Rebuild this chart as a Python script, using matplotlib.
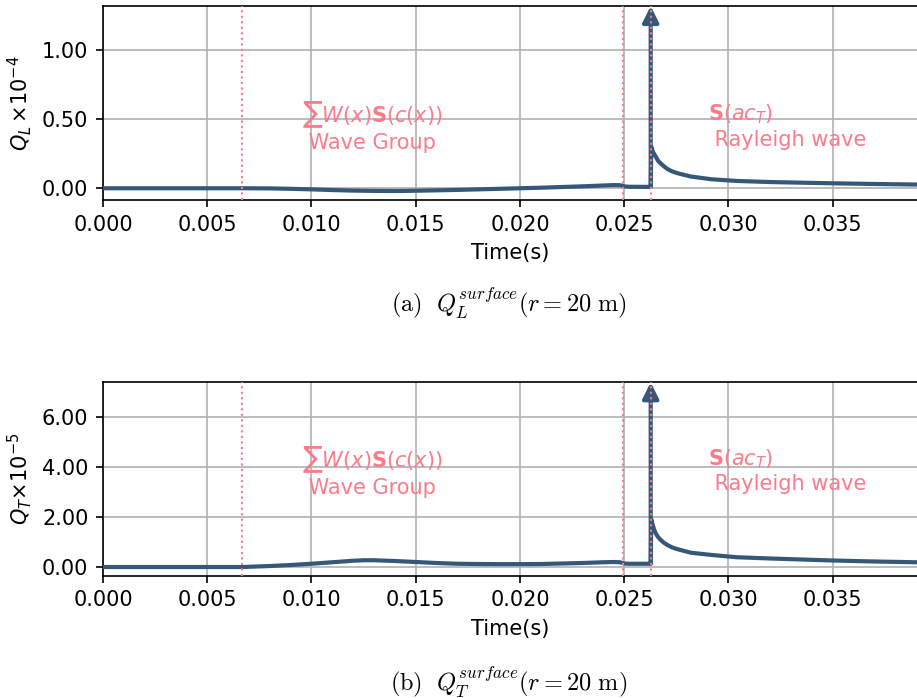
import numpy as np
import matplotlib
matplotlib.use("Agg")
import matplotlib.pyplot as plt

# --- datos (Q_L en 1e-4, Q_T en 1e-5) ---
t = [0.0, 0.002, 0.004, 0.006, 0.0067, 0.008, 0.009, 0.010, 0.011, 0.012,
     0.0125, 0.013, 0.014, 0.015, 0.016, 0.017, 0.018, 0.019, 0.020, 0.021,
     0.022, 0.023, 0.024, 0.0245, 0.0248, 0.0250, 0.0252, 0.0262, 0.02627,
     0.02630, 0.02636, 0.02643, 0.02651, 0.02662, 0.02675, 0.0269, 0.02707,
     0.0273, 0.02756, 0.0282, 0.0292, 0.0304, 0.032, 0.035, 0.037, 0.039]

q_l = [0.0, 0.0, 0.0, 0.0, 0.0, -0.001, -0.004, -0.008, -0.013, -0.017,
       -0.018, -0.019, -0.020, -0.018, -0.015, -0.012, -0.008, -0.004, 0.0, 0.004,
       0.009, 0.014, 0.020, 0.023, 0.022, 0.014, 0.011, 0.010, 0.010,
       0.30, 0.27, 0.25, 0.23, 0.20, 0.18, 0.16, 0.14,
       0.122, 0.109, 0.085, 0.065, 0.053, 0.045, 0.036, 0.031, 0.027]

q_t = [0.0, 0.0, 0.0, 0.0, 0.0, 0.04, 0.08, 0.13, 0.19, 0.25,
       0.27, 0.27, 0.24, 0.20, 0.16, 0.13, 0.12, 0.115, 0.115, 0.12,
       0.14, 0.16, 0.19, 0.20, 0.19, 0.14, 0.13, 0.13, 0.13,
       1.9, 1.7, 1.5, 1.35, 1.2, 1.08, 0.97, 0.88,
       0.78, 0.71, 0.57, 0.48, 0.39, 0.34, 0.26, 0.22, 0.19]

t_inicio = 0.00667   # llegada del grupo de ondas
t_fin = 0.02495
t_rayleigh = 0.02627
i_ray = t.index(t_rayleigh)

paneles = [
    dict(q=q_l, ylabel=r"$Q_L\,{\times}10^{-4}$", ylim=(-0.085, 1.322),
         yticks=[0.0, 0.5, 1.0], ytxt=0.45,
         caption=r"$\mathrm{(a)}\ \ Q_L^{surface}(r=20\ \mathrm{m})$"),
    dict(q=q_t, ylabel=r"$Q_T{\times}10^{-5}$", ylim=(-0.347, 7.37),
         yticks=[0.0, 2.0, 4.0, 6.0], ytxt=3.84,
         caption=r"$\mathrm{(b)}\ \ Q_T^{surface}(r=20\ \mathrm{m})$"),
]

color_linea = "#365878"
color_rosa = "#fb7b8b"

fig = plt.figure(figsize=(917 / 150, 698 / 150), dpi=150)
posiciones = [[0.1123, 0.7135, 0.8890, 0.2779], [0.1123, 0.1752, 0.8890, 0.2771]]
caption_y = [1 - 303 / 698, 1 - 682 / 698]

for p, pos, cy in zip(paneles, posiciones, caption_y):
    ax = fig.add_axes(pos)
    ax.plot(t, p["q"], color=color_linea, lw=2, zorder=3)
    ax.annotate("", xy=(t_rayleigh, p["ylim"][1]), xytext=(t_rayleigh, p["q"][i_ray]),
                arrowprops=dict(arrowstyle="-|>", color=color_linea, lw=2,
                                mutation_scale=16, shrinkA=0, shrinkB=0),
                zorder=4)
    for tv in [t_inicio, t_fin, t_rayleigh]:
        ax.axvline(tv, color=color_rosa, ls=":", lw=1, zorder=5)

    ax.text(0.00956, p["ytxt"], r"$\sum W(x)\mathbf{S}(c(x))$" + "\n Wave Group",
            color=color_rosa, ha="left", va="center")
    ax.text(0.0290, p["ytxt"], r"$\mathbf{S}(ac_T)$" + "\n Rayleigh wave",
            color=color_rosa, ha="left", va="center")

    ax.set_xlim(0, 0.0391)
    ax.set_ylim(*p["ylim"])
    ax.set_xticks(np.arange(0, 0.036, 0.005))
    ax.set_yticks(p["yticks"])
    ax.xaxis.set_major_formatter(plt.FormatStrFormatter("%.3f"))
    ax.yaxis.set_major_formatter(plt.FormatStrFormatter("%.2f"))
    ax.grid(True)
    ax.set_axisbelow(True)
    ax.set_xlabel("Time(s)")
    ax.set_ylabel(p["ylabel"])

    fig.text(pos[0] + pos[2] / 2 - 0.002, cy, p["caption"], ha="center", va="center",
             fontsize=11.7, math_fontfamily="cm")

fig.savefig("out.png", dpi=150)
